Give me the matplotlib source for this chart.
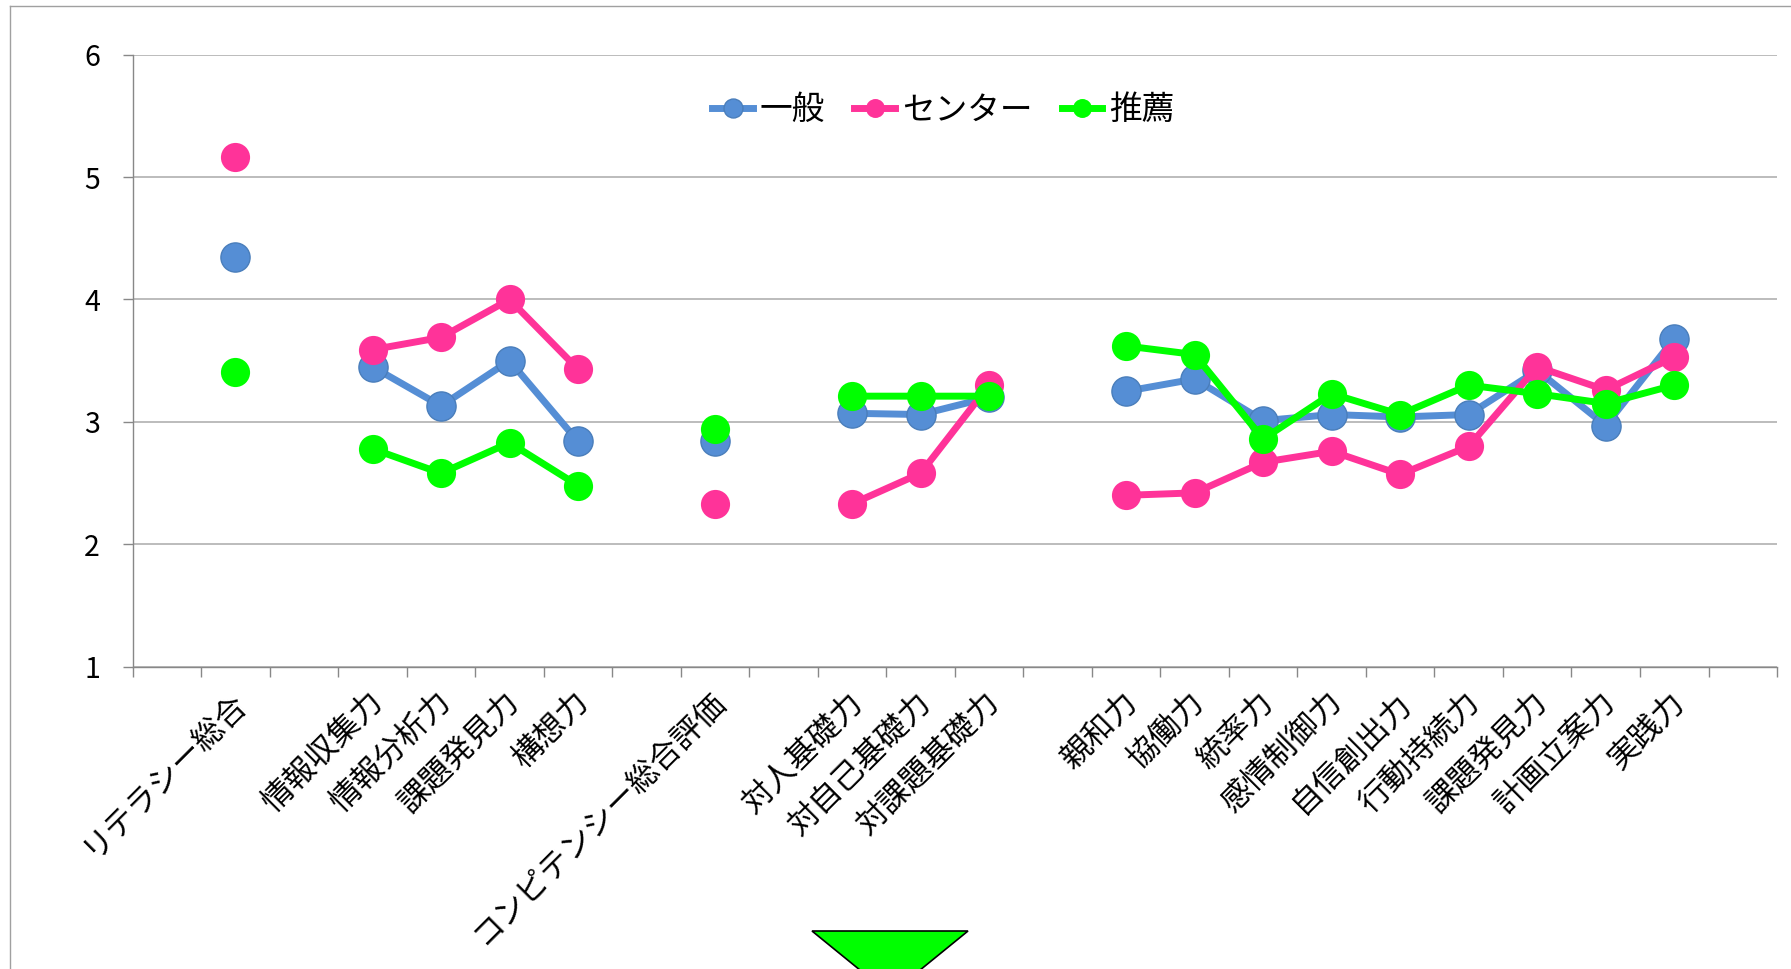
import matplotlib
matplotlib.use('Agg')
import matplotlib.pyplot as plt
import matplotlib.transforms as mtransforms
import numpy as np
from matplotlib.patches import Polygon
from matplotlib.lines import Line2D

plt.rcParams['font.family'] = ['Noto Sans CJK JP', 'DejaVu Sans']

nan = np.nan

categories = ['', 'リテラシー総合', '', '情報収集力', '情報分析力', '課題発見力', '構想力', '',
              'コンピテンシー総合評価', '', '対人基礎力', '対自己基礎力', '対課題基礎力', '',
              '親和力', '協働力', '統率力', '感情制御力', '自信創出力', '行動持続力',
              '課題発見力', '計画立案力', '実践力', '']

ippan = [nan, 4.35, nan, 3.45, 3.13, 3.50, 2.84, nan, 2.84, nan, 3.07, 3.06, 3.20, nan,
         3.25, 3.35, 3.01, 3.06, 3.04, 3.06, 3.42, 2.97, 3.68, nan]
center = [nan, 5.16, nan, 3.59, 3.69, 4.00, 3.43, nan, 2.33, nan, 2.33, 2.58, 3.30, nan,
          2.40, 2.42, 2.67, 2.76, 2.57, 2.80, 3.45, 3.26, 3.53, nan]
suisen = [nan, 3.41, nan, 2.78, 2.58, 2.83, 2.48, nan, 2.94, nan, 3.21, 3.21, 3.21, nan,
          3.62, 3.55, 2.86, 3.23, 3.06, 3.30, 3.23, 3.15, 3.30, nan]

series_names = ['一般', 'センター', '推薦']
y_ticks = [1, 2, 3, 4, 5, 6]

W, H = 1791, 969
fig = plt.figure(figsize=(W / 100, H / 100), dpi=100)
ax = fig.add_axes([0.0741, 0.312, 0.9181, 0.6316])

x = np.arange(len(categories))
ax.plot(x, ippan, '-o', color='#558ED5', lw=5, ms=21, mec='#4A7EBB', mew=1, label=series_names[0])
ax.plot(x, center, '-o', color='#FF3399', lw=5, ms=21, mew=0, label=series_names[1])
ax.plot(x, suisen, '-o', color='#00FF00', lw=5, ms=21, mew=0, label=series_names[2])

ax.set_xlim(-0.5, len(categories) - 0.5)
ax.set_ylim(1, 6)

# category labels at centres, tick marks at boundaries
ax.set_xticks(x)
ax.set_xticklabels(categories, rotation=45, ha='right', va='top', rotation_mode='anchor', fontsize=22.5)
ax.tick_params(axis='x', which='major', length=0, pad=14)
shift = mtransforms.ScaledTranslation(-4 / 72, 0, fig.dpi_scale_trans)
for lbl in ax.get_xticklabels():
    lbl.set_transform(lbl.get_transform() + shift)
ax.set_xticks(np.arange(-0.5, len(categories), 1), minor=True)
ax.tick_params(axis='x', which='minor', length=7.5, color='#888888', width=1)

ax.set_yticks(y_ticks)
ax.tick_params(axis='y', length=7.5, color='#888888', width=1, pad=16, labelsize=20.5)

ax.yaxis.grid(True, color='#B0B0B0', lw=1.2)
ax.set_axisbelow(True)
for s in ['top', 'right']:
    ax.spines[s].set_visible(False)
for s in ['left', 'bottom']:
    ax.spines[s].set_color('#888888')
    ax.spines[s].set_linewidth(1)

ax.legend(loc='center', bbox_to_anchor=(0.493, 0.909), ncol=3, frameon=False, fontsize=23.5,
          markerscale=0.65, handlelength=1.25, handletextpad=0.2, columnspacing=0.9)

# chart frame (top and left edges)
fig.add_artist(Line2D([10 / W, 10 / W], [0, 1 - 6 / H], transform=fig.transFigure, color='#A0A0A0', lw=1))
fig.add_artist(Line2D([10 / W, 1], [1 - 6 / H, 1 - 6 / H], transform=fig.transFigure, color='#A0A0A0', lw=1))

# down arrow marker below the chart
tri = Polygon([(812 / W, 38 / H), (968 / W, 38 / H), (890 / W, -25.5 / H)], closed=True,
              facecolor='#00FF00', edgecolor='black', lw=1.2, transform=fig.transFigure, clip_on=False)
fig.add_artist(tri)

fig.savefig('out.png', dpi=100)
